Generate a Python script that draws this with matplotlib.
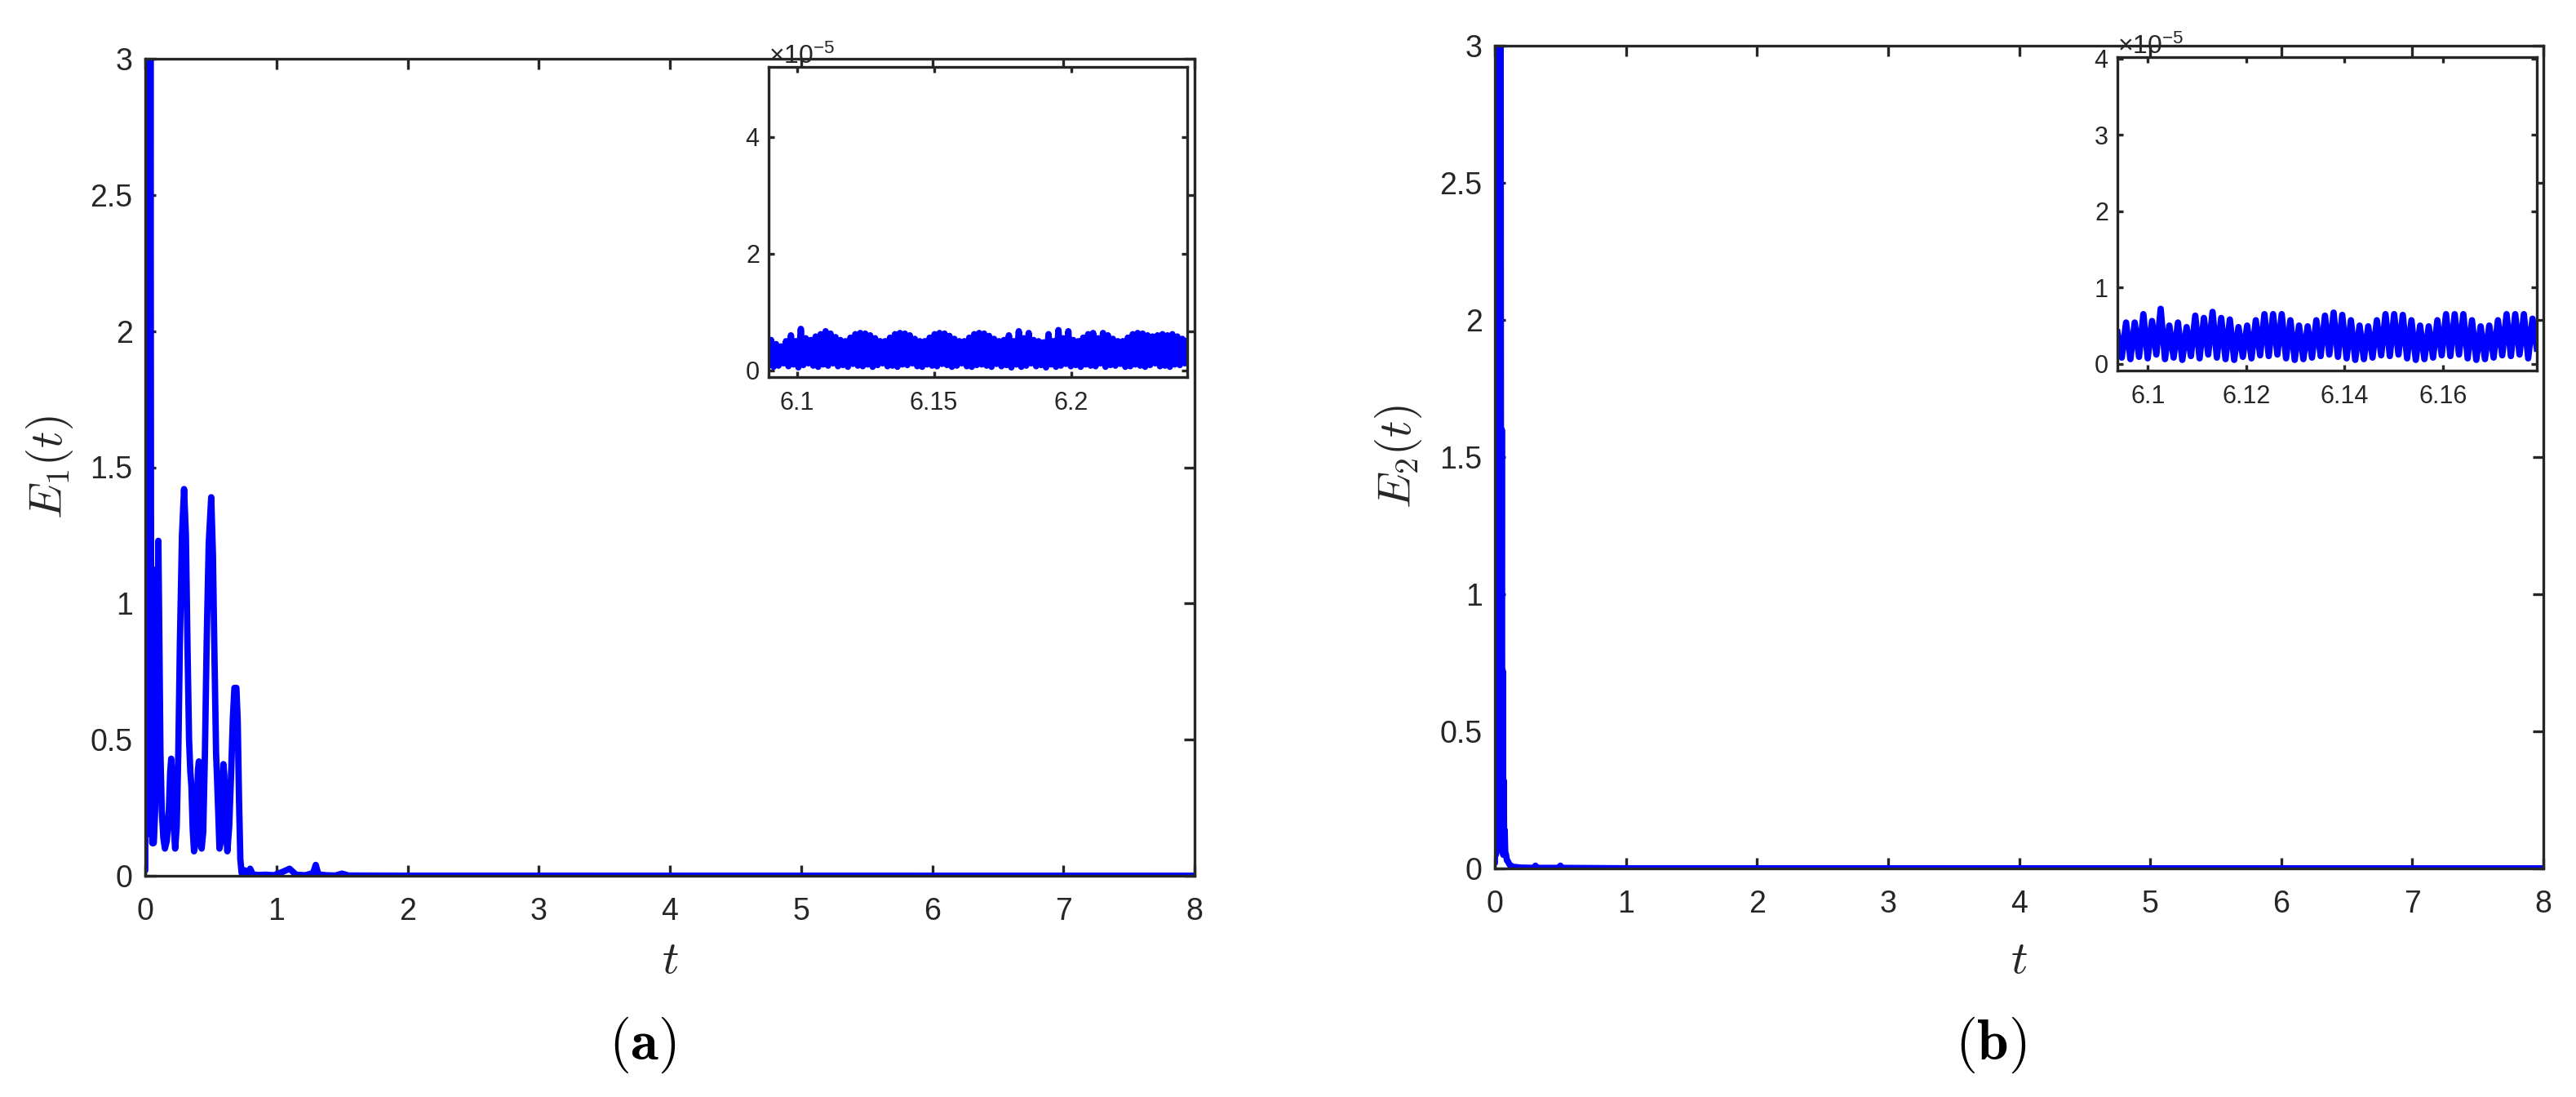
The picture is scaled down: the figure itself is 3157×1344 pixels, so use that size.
import numpy as np
import matplotlib
matplotlib.use('Agg')
import matplotlib.pyplot as plt
from matplotlib.ticker import FixedLocator, FixedFormatter, ScalarFormatter

# ---------------- data ----------------
# panel (a): E1(t)
t_a = [0.000, 0.005, 0.010, 0.016, 0.022, 0.028, 0.034, 0.040, 0.046, 0.050, 0.054, 0.058, 0.064,
       0.074, 0.084, 0.092, 0.100, 0.108, 0.116, 0.126, 0.138, 0.150,
       0.165, 0.180, 0.190, 0.198, 0.206, 0.216, 0.228,
       0.240, 0.252, 0.264, 0.280, 0.296, 0.310, 0.322, 0.334, 0.344, 0.352, 0.362, 0.372,
       0.385, 0.395, 0.402, 0.409, 0.418, 0.430,
       0.442, 0.455, 0.468, 0.484, 0.503, 0.516, 0.528, 0.540, 0.548, 0.556, 0.566,
       0.578, 0.588, 0.596, 0.603, 0.612, 0.626,
       0.640, 0.655, 0.668, 0.680, 0.695, 0.705, 0.715, 0.725, 0.735,
       0.76, 0.78, 0.80, 0.82, 0.86, 0.92, 0.98, 1.05, 1.10, 1.15, 1.22, 1.28, 1.30, 1.32, 1.38,
       1.45, 1.50, 1.55, 2.0, 8.0]
E_a = [0.02, 3.6, 0.30, 3.5, 0.25, 3.4, 0.20, 3.3, 0.15, 1.13, 0.12, 0.87, 0.12,
       0.22, 0.45, 0.85, 1.23, 0.85, 0.45, 0.24, 0.14, 0.10,
       0.13, 0.24, 0.38, 0.43, 0.36, 0.19, 0.10,
       0.18, 0.45, 0.85, 1.25, 1.42, 1.25, 0.85, 0.50, 0.38, 0.33, 0.17, 0.09,
       0.12, 0.27, 0.39, 0.42, 0.27, 0.10,
       0.16, 0.45, 0.85, 1.22, 1.39, 1.18, 0.80, 0.45, 0.35, 0.24, 0.10,
       0.13, 0.30, 0.41, 0.37, 0.20, 0.09,
       0.18, 0.38, 0.58, 0.69, 0.69, 0.57, 0.28, 0.06, 0.01,
       0.02, 0.005, 0.026, 0.005, 0.003, 0.004, 0.002, 0.015, 0.026, 0.004, 0.002, 0.01, 0.04,
       0.005, 0.002, 0.001, 0.008, 0.001, 0.0005, 0.0003]

# panel (b): E2(t)
t_b = [0.000, 0.004, 0.008, 0.012, 0.016, 0.020, 0.024, 0.028, 0.032, 0.036, 0.040, 0.044, 0.048,
       0.053, 0.057, 0.061, 0.064, 0.068, 0.071, 0.075, 0.079, 0.085, 0.092, 0.100, 0.115, 0.14, 0.20,
       0.30, 0.31, 0.32, 0.49, 0.50, 0.51, 1.0, 8.0]
E_b = [0.02, 3.6, 0.05, 3.5, 0.08, 3.4, 0.10, 3.3, 0.10, 3.2, 0.10, 3.1, 0.08,
       1.60, 0.06, 0.72, 0.05, 0.32, 0.05, 0.14, 0.06, 0.05, 0.03, 0.025, 0.012, 0.006, 0.003,
       0.002, 0.01, 0.002, 0.002, 0.01, 0.002, 0.0005, 0.0002]

# inset (a): oscillation peaks / troughs, in units of 1e-5, over t in [6.0897, 6.2424]
inset_a_range = [6.0897, 6.2424]
inset_a_peaks = [0.52, 0.45, 0.41, 0.50, 0.60, 0.50, 0.71, 0.55, 0.52, 0.58,
                 0.62, 0.67, 0.63, 0.57, 0.52, 0.50, 0.56, 0.62, 0.64, 0.63,
                 0.60, 0.55, 0.50, 0.50, 0.56, 0.62, 0.64, 0.63, 0.60, 0.54,
                 0.50, 0.50, 0.56, 0.62, 0.64, 0.63, 0.59, 0.54, 0.50, 0.50,
                 0.56, 0.62, 0.64, 0.63, 0.59, 0.54, 0.50, 0.52, 0.60, 0.50,
                 0.67, 0.55, 0.64, 0.52, 0.50, 0.48, 0.62, 0.50, 0.69, 0.55,
                 0.67, 0.52, 0.50, 0.56, 0.62, 0.64, 0.55, 0.64, 0.60, 0.54,
                 0.50, 0.50, 0.56, 0.62, 0.64, 0.63, 0.60, 0.58, 0.60, 0.62,
                 0.60, 0.62, 0.58, 0.54, 0.50]
inset_a_troughs = [0.10, 0.06, 0.08, 0.12, 0.07, 0.10, 0.05, 0.09, 0.12, 0.08,
                   0.06, 0.10, 0.08, 0.12, 0.07, 0.09, 0.06, 0.11, 0.08, 0.07,
                   0.10, 0.06, 0.09, 0.12, 0.07, 0.08, 0.06, 0.10, 0.09, 0.12,
                   0.07, 0.06, 0.10, 0.08, 0.07, 0.11, 0.09, 0.06, 0.08, 0.12,
                   0.07, 0.06, 0.09, 0.10, 0.08, 0.06, 0.11, 0.07, 0.09, 0.05,
                   0.10, 0.06, 0.08, 0.12, 0.07, 0.09, 0.05, 0.10, 0.06, 0.08,
                   0.11, 0.07, 0.09, 0.06, 0.10, 0.08, 0.07, 0.12, 0.06, 0.09,
                   0.08, 0.11, 0.06, 0.07, 0.10, 0.08, 0.06, 0.09, 0.12, 0.07,
                   0.08, 0.06, 0.10, 0.09, 0.12]

# inset (b): in units of 1e-5, over t in [6.0938, 6.1791]
inset_b_range = [6.0938, 6.1791]
inset_b_start = 0.41
inset_b_peaks = [0.54, 0.54, 0.65, 0.56, 0.72, 0.50, 0.54, 0.48, 0.63, 0.60,
                 0.68, 0.60, 0.58, 0.48, 0.50, 0.57, 0.65, 0.65, 0.65, 0.57,
                 0.50, 0.49, 0.57, 0.63, 0.67, 0.64, 0.57, 0.50, 0.49, 0.57,
                 0.65, 0.65, 0.64, 0.57, 0.50, 0.49, 0.57, 0.65, 0.65, 0.65,
                 0.57, 0.49, 0.50, 0.57, 0.65, 0.65, 0.65, 0.59]
inset_b_troughs = [0.08, 0.06, 0.09, 0.07, 0.12, 0.06, 0.08, 0.05, 0.10, 0.07,
                   0.12, 0.08, 0.06, 0.05, 0.09, 0.07, 0.11, 0.10, 0.12, 0.07,
                   0.05, 0.06, 0.08, 0.10, 0.12, 0.09, 0.07, 0.05, 0.06, 0.08,
                   0.11, 0.10, 0.12, 0.07, 0.05, 0.06, 0.08, 0.11, 0.10, 0.12,
                   0.07, 0.05, 0.06, 0.08, 0.11, 0.10, 0.12, 0.07, 0.20]

main_xticks = [0, 1, 2, 3, 4, 5, 6, 7, 8]
main_yticks = [0, 0.5, 1, 1.5, 2, 2.5, 3]
main_yticklabels = ['0', '0.5', '1', '1.5', '2', '2.5', '3']
inset_a_xticks = [6.1, 6.15, 6.2]
inset_a_xticklabels = ['6.1', '6.15', '6.2']
inset_a_yticks = [0, 2, 4]
inset_b_xticks = [6.1, 6.12, 6.14, 6.16]
inset_b_xticklabels = ['6.1', '6.12', '6.14', '6.16']
inset_b_yticks = [0, 1, 2, 3, 4]
ylabels = [r'$E_1(t)$', r'$E_2(t)$']
panel_labels = [r'$(\mathbf{a})$', r'$(\mathbf{b})$']

# ---------------- styling ----------------
plt.rcParams['font.family'] = ['Liberation Sans', 'DejaVu Sans']
plt.rcParams['mathtext.fontset'] = 'custom'
plt.rcParams['mathtext.rm'] = 'Liberation Sans'
plt.rcParams['mathtext.it'] = 'Liberation Sans:italic'
plt.rcParams['mathtext.bf'] = 'Liberation Sans:bold'

FG = '#262626'
BLUE = '#0000FF'
LW = 5.6
W, H = 3157, 1344
fig = plt.figure(figsize=(W / 100, H / 100), dpi=100)


def rect(x0, y0, x1, y1):
    return [x0 / W, 1 - y1 / H, (x1 - x0) / W, (y1 - y0) / H]


def style(ax, ticklen, fs, xpad, ypad):
    for s in ax.spines.values():
        s.set_linewidth(2.4)
        s.set_color(FG)
    ax.tick_params(direction='in', top=True, right=True, length=ticklen, width=2.4,
                   colors=FG, labelsize=fs)
    ax.tick_params(axis='x', pad=xpad)
    ax.tick_params(axis='y', pad=ypad)


def interleave(a, b):
    out = []
    for i in range(len(b)):
        out.append(a[i])
        out.append(b[i])
    out.extend(a[len(b):])
    return out


main_rects = [rect(178, 72, 1464, 1073), rect(1832, 56, 3117, 1064)]
inset_rects = [rect(942, 82, 1455, 462), rect(2595, 70, 3109, 454)]
xlabel_y = [-0.077, -0.085]
ylabel_x = [-0.067, -0.068]
panel_xy = [(787, 1280), (2440, 1280)]

series = [(t_a, E_a), (t_b, E_b)]
vals_a = interleave(inset_a_troughs, inset_a_peaks)
vals_b = [inset_b_start] + interleave(inset_b_troughs, inset_b_peaks)
insets = [
    (inset_a_range, vals_a, inset_a_xticks, inset_a_xticklabels, inset_a_yticks, (-0.116, 5.2)),
    (inset_b_range, vals_b, inset_b_xticks, inset_b_xticklabels, inset_b_yticks, (-0.09, 4.02)),
]

for k in range(2):
    ax = fig.add_axes(main_rects[k])
    t, E = series[k]
    ax.plot(t, E, color=BLUE, lw=LW, solid_joinstyle='round', solid_capstyle='round')
    ax.set_xlim(0, 8)
    ax.set_ylim(0, 3)
    ax.set_xticks(main_xticks)
    ax.set_yticks(main_yticks)
    ax.set_yticklabels(main_yticklabels)
    style(ax, 9.5, 27, 19, 11)
    ax.set_xlabel(r'$t$', fontsize=41, math_fontfamily='cm', color=FG)
    ax.xaxis.set_label_coords(0.5, xlabel_y[k])
    ax.set_ylabel(ylabels[k], fontsize=41, math_fontfamily='cm', color=FG)
    ax.yaxis.set_label_coords(ylabel_x[k], 0.5)

    rng, vals, xt, xtl, yt, yl = insets[k]
    ins = fig.add_axes(inset_rects[k])
    tt = np.linspace(rng[0], rng[1], len(vals))
    ins.plot(tt, np.array(vals) * 1e-5, color=BLUE, lw=LW, solid_joinstyle='round')
    ins.set_xlim(rng[0], rng[1])
    ins.set_ylim(yl[0] * 1e-5, yl[1] * 1e-5)
    ins.xaxis.set_major_locator(FixedLocator(xt))
    ins.xaxis.set_major_formatter(FixedFormatter(xtl))
    ins.yaxis.set_major_locator(FixedLocator([v * 1e-5 for v in yt]))
    fmt = ScalarFormatter(useMathText=True)
    fmt.set_powerlimits((0, 0))
    ins.yaxis.set_major_formatter(fmt)
    style(ins, 5, 22, 12, 8)
    ins.yaxis.get_offset_text().set_fontsize(23)
    ins.yaxis.get_offset_text().set_color(FG)

    fig.text(panel_xy[k][0] / W, 1 - panel_xy[k][1] / H, panel_labels[k], ha='center',
             va='center', fontsize=50, math_fontfamily='cm', color='black')

fig.savefig('out.png', dpi=100)
